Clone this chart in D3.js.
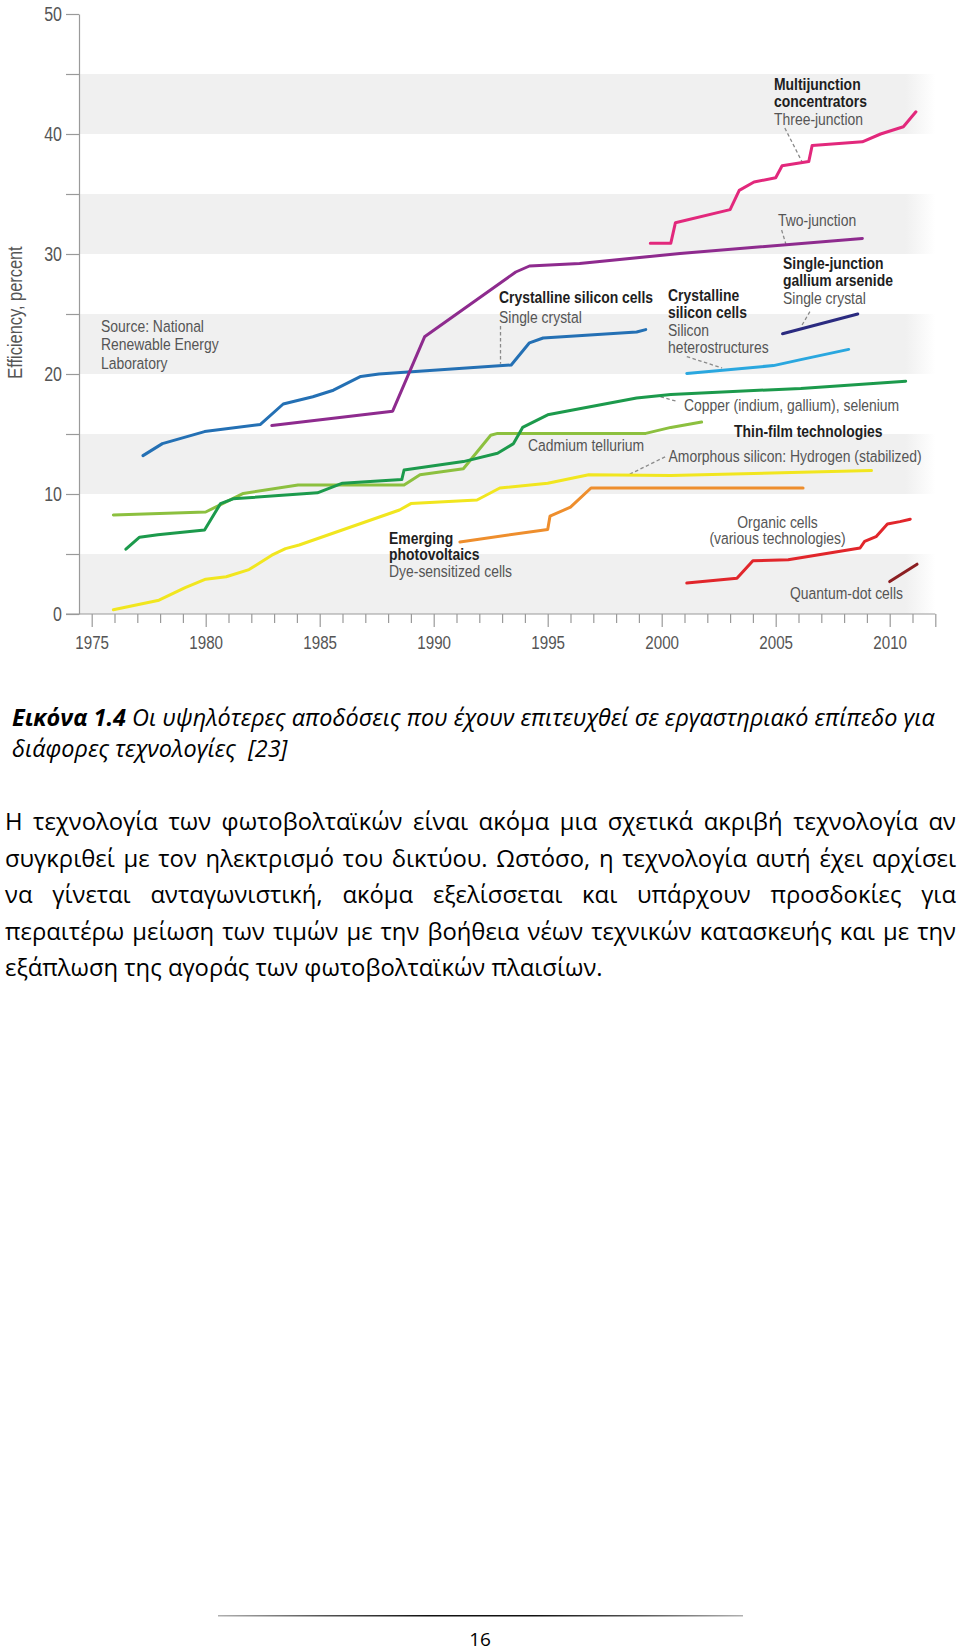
<!DOCTYPE html>
<html><head><meta charset="utf-8">
<script src="https://cdn.jsdelivr.net/npm/d3@7"></script>
<style>
html,body{margin:0;padding:0;background:#fff;}
svg{display:block;}
</style></head>
<body>
<svg id="page" width="960" height="1651"></svg>
<script>
// ---------------- DATA ----------------
const yearTicks = d3.range(1975, 2013);
const yearLabels = [1975, 1980, 1985, 1990, 1995, 2000, 2005, 2010];
const effTicks = [0, 5, 10, 15, 20, 25, 30, 35, 40, 45, 50];
const effLabels = [0, 10, 20, 30, 40, 50];
const bandRanges = [[0, 5], [10, 15], [20, 25], [30, 35], [40, 45]];

// [year, efficiency %]
const threeJunction = [[1999.5,30.9],[2000.4,30.9],[2000.6,32.6],[2003.0,33.7],[2003.4,35.3],[2004.05,36.0],[2005.0,36.35],[2005.28,37.35],[2006.45,37.7],[2006.6,39.05],[2008.8,39.35],[2009.6,40.0],[2010.6,40.6],[2011.15,41.85]];
const twoJunction = [[1982.9,15.7],[1988.2,16.9],[1989.6,23.1],[1993.6,28.5],[1994.2,29.0],[1996.4,29.2],[2000.8,30.05],[2008.8,31.3]];
const gaAsSingle = [[2005.3,23.35],[2008.6,25.0]];
const siSingleCrystal = [[1977.25,13.2],[1978.1,14.2],[1979.95,15.2],[1982.4,15.8],[1983.4,17.5],[1984.7,18.1],[1985.6,18.65],[1986.8,19.8],[1987.6,20.0],[1993.4,20.75],[1994.2,22.6],[1994.8,23.0],[1998.9,23.5],[1999.3,23.7]];
const siHetero = [[2001.1,20.05],[2004.9,20.7],[2006.1,21.2],[2008.2,22.05]];
const cigs = [[1976.5,5.4],[1977.1,6.4],[1977.9,6.6],[1979.95,7.0],[1980.65,9.2],[1981.2,9.6],[1984.9,10.1],[1986.0,10.9],[1988.6,11.2],[1988.7,12.0],[1991.3,12.7],[1992.8,13.4],[1993.5,14.2],[1993.9,15.55],[1995.0,16.6],[1996.1,17.0],[1998.9,18.0],[2000.4,18.3],[2006.1,18.8],[2010.7,19.4]];
const cdte = [[1975.95,8.25],[1980.0,8.5],[1981.65,10.05],[1984.05,10.75],[1988.7,10.75],[1989.4,11.6],[1991.3,12.1],[1992.5,14.9],[1992.8,15.05],[1999.3,15.05],[2000.4,15.55],[2001.75,16.0]];
const amorphousSi = [[1975.95,0.35],[1977.95,1.15],[1979.1,2.2],[1980.0,2.9],[1980.9,3.1],[1981.9,3.7],[1982.9,4.9],[1983.5,5.45],[1984.1,5.75],[1988.5,8.67],[1989.0,9.2],[1991.9,9.5],[1992.9,10.5],[1995.0,10.9],[1996.8,11.6],[2000.4,11.55],[2009.2,11.95]];
const dyeSensitized = [[1991.15,6.0],[1995.0,7.05],[1995.1,8.15],[1996.0,8.9],[1996.9,10.5],[2006.2,10.5]];
const organic = [[2001.1,2.58],[2003.3,2.97],[2004.0,4.44],[2005.55,4.52],[2008.7,5.5],[2008.9,6.05],[2009.4,6.44],[2009.9,7.5],[2010.45,7.7],[2010.9,7.9]];
const quantumDot = [[2010.0,2.7],[2011.2,4.15]];

// annotation leader lines [year, eff] -> [year, eff]
const leaders = [
  [[1992.93,24.0],[1992.93,20.85]],
  [[2001.1,21.45],[2002.65,20.5]],
  [[2005.26,32.0],[2005.45,30.8]],
  [[2005.4,40.5],[2006.15,37.7]],
  [[2006.5,25.2],[2006.1,23.9]],
  [[1999.95,18.1],[2000.7,17.7]],
  [[2000.15,13.1],[1998.6,11.65]]
];

const captionBold = "Εικόνα 1.4";
const captionLine1 = " Οι υψηλότερες αποδόσεις που έχουν επιτευχθεί σε εργαστηριακό επίπεδο για";
const captionLine2 = "διάφορες τεχνολογίες  [23]";
const paragraphLines = [
  "Η τεχνολογία των φωτοβολταϊκών είναι ακόμα μια σχετικά ακριβή τεχνολογία αν",
  "συγκριθεί με τον ηλεκτρισμό του δικτύου. Ωστόσο, η τεχνολογία αυτή έχει αρχίσει",
  "να γίνεται ανταγωνιστική, ακόμα εξελίσσεται και υπάρχουν προσδοκίες για",
  "περαιτέρω μείωση των τιμών με την βοήθεια νέων τεχνικών κατασκευής και με την",
  "εξάπλωση της αγοράς των φωτοβολταϊκών πλαισίων."
];
const pageNumber = "16";

// ---------------- FONTS ----------------
function fontAvailable(name){
  const c = document.createElement('canvas').getContext('2d');
  const s = 'Crystalline silicon cells 0123456789';
  c.font = '20px monospace'; const a = c.measureText(s).width;
  c.font = '20px "' + name + '", monospace'; const b = c.measureText(s).width;
  return Math.abs(a - b) > 0.5;
}
const narrowOK = fontAvailable('Liberation Sans Narrow');
const NF = narrowOK ? '"Liberation Sans Narrow", sans-serif' : '"Liberation Sans", Arial, sans-serif';
const SX = narrowOK ? 1 : 0.82;
const BODY = '"Open Sans", "Noto Sans", sans-serif';

// ---------------- CHART ----------------
const svg = d3.select('#page');
const x = d3.scaleLinear().domain([1975, 2012]).range([91.7, 935.3]);
const y = d3.scaleLinear().domain([0, 50]).range([614, 14]);

const defs = svg.append('defs');
const grad = defs.append('linearGradient').attr('id','bandFade').attr('x1','0').attr('x2','1').attr('y1','0').attr('y2','0');
grad.append('stop').attr('offset','0').attr('stop-color','#f0f0f0');
grad.append('stop').attr('offset','0.965').attr('stop-color','#f0f0f0');
grad.append('stop').attr('offset','1').attr('stop-color','#ffffff');

svg.append('g').selectAll('rect').data(bandRanges).join('rect')
  .attr('x', 80).attr('width', x(2012) - 80)
  .attr('y', d => y(d[1])).attr('height', d => y(d[0]) - y(d[1]))
  .attr('fill', 'url(#bandFade)');

// y axis
const yAxis = svg.append('g').attr('transform','translate(79,0)')
  .call(d3.axisLeft(y).tickValues(effTicks).tickSize(13).tickSizeOuter(0).tickPadding(4)
    .tickFormat(d => effLabels.includes(d) ? d : ''));
yAxis.select('.domain').attr('stroke','#9a9a9a').attr('stroke-width',1.2);
yAxis.selectAll('.tick line').attr('stroke','#9a9a9a').attr('stroke-width',1.2);
yAxis.selectAll('.tick text').attr('font-family', null).style('font-family', NF).attr('font-size', 19.5)
  .attr('fill','#555').attr('transform', 'scale(' + SX + ',1)')
  .attr('x', -17 / SX);

// x axis
svg.append('line').attr('x1', 66).attr('x2', x(2012)).attr('y1', 614).attr('y2', 614)
  .attr('stroke','#9a9a9a').attr('stroke-width',1.2);
const xAxis = svg.append('g').attr('transform','translate(0,614)')
  .call(d3.axisBottom(x).tickValues(yearTicks).tickSize(9).tickSizeOuter(0)
    .tickFormat(d => yearLabels.includes(d) ? d : ''));
xAxis.select('.domain').remove();
xAxis.selectAll('.tick line').attr('stroke','#9a9a9a').attr('stroke-width',1.2)
  .attr('y2', d => yearLabels.includes(d) || d === 2012 ? 13 : 9);
xAxis.selectAll('.tick text').style('font-family', NF).attr('font-size', 18.5)
  .attr('fill','#555').attr('y', 22).attr('transform', 'scale(' + SX + ',1)');

// y-axis title
svg.append('text').attr('transform','translate(22,312.5) rotate(-90) scale(' + SX + ',1)')
  .attr('text-anchor','middle').style('font-family', NF).attr('font-size', 20)
  .attr('fill','#555').text('Efficiency, percent');

// leaders
svg.append('g').selectAll('line').data(leaders).join('line')
  .attr('x1', d => x(d[0][0])).attr('y1', d => y(d[0][1]))
  .attr('x2', d => x(d[1][0])).attr('y2', d => y(d[1][1]))
  .attr('stroke','#8a8a8a').attr('stroke-width',1.3).attr('stroke-dasharray','3.5,2.5');

// series
const series = [
  {data: amorphousSi, color: '#f1e61f'},
  {data: dyeSensitized, color: '#ee8e2d'},
  {data: cdte, color: '#8cc03f'},
  {data: cigs, color: '#1c9a4c'},
  {data: siSingleCrystal, color: '#2470b4'},
  {data: twoJunction, color: '#8e2b8e'},
  {data: threeJunction, color: '#e2287c'},
  {data: gaAsSingle, color: '#2b2b80'},
  {data: siHetero, color: '#2aa7df'},
  {data: organic, color: '#e1262b'},
  {data: quantumDot, color: '#8c1f22'}
];
const line = d3.line().x(d => x(d[0])).y(d => y(d[1]));
svg.append('g').selectAll('path').data(series).join('path')
  .attr('d', d => line(d.data)).attr('fill','none')
  .attr('stroke', d => d.color).attr('stroke-width', 3)
  .attr('stroke-linejoin','round').attr('stroke-linecap','round');

// labels
function label(px, py, lines, lh, anchor){
  const t = svg.append('text')
    .attr('transform','translate(' + px + ',' + py + ') scale(' + SX + ',1)')
    .style('font-family', NF).attr('font-size', 17)
    .attr('text-anchor', anchor || 'start');
  lines.forEach((l, i) => {
    t.append('tspan').attr('x', 0).attr('y', i * lh)
      .attr('font-weight', l[1] ? 'bold' : 'normal')
      .attr('fill', l[1] ? '#1e1e1e' : '#555').text(l[0]);
  });
}
label(101, 332, [['Source: National'],['Renewable Energy'],['Laboratory']], 18.5);
label(499, 303, [['Crystalline silicon cells', 1]], 19);
label(499, 322.5, [['Single crystal']], 19);
label(668, 301, [['Crystalline', 1],['silicon cells', 1],['Silicon'],['heterostructures']], 17.5);
label(778, 226, [['Two-junction']], 17);
label(774, 90, [['Multijunction', 1],['concentrators', 1],['Three-junction']], 17.5);
label(783, 269, [['Single-junction', 1],['gallium arsenide', 1],['Single crystal']], 17.5);
label(684, 410.5, [['Copper (indium, gallium), selenium']], 17);
label(734, 436.5, [['Thin-film technologies', 1]], 17);
label(668.5, 462, [['Amorphous silicon: Hydrogen (stabilized)']], 17);
label(528, 451, [['Cadmium tellurium']], 17);
label(389, 544, [['Emerging', 1],['photovoltaics', 1],['Dye-sensitized cells']], 16.5);
label(777.5, 527.5, [['Organic cells'],['(various technologies)']], 16.5, 'middle');
label(790, 599, [['Quantum-dot cells']], 17);

// ---------------- TEXT BELOW ----------------
function measure(str, size, weight, italic){
  const t = svg.append('text').style('font-family', BODY).attr('font-size', size)
    .attr('font-weight', weight || 'normal').attr('font-style', italic ? 'italic' : 'normal')
    .style('white-space','pre').text(str);
  const w = t.node().getComputedTextLength(); t.remove(); return w;
}
// caption size fitted to reference line width
const capW20 = measure(captionBold, 20, 'bold', true) + measure(captionLine1, 20, 'normal', true);
const capSize = 20 * 923 / capW20;
const cap = svg.append('text').attr('x', 12).attr('y', 726).style('font-family', BODY)
  .attr('font-size', capSize).attr('font-style','italic').style('white-space','pre').attr('fill','#000');
cap.append('tspan').attr('font-weight','bold').text(captionBold);
cap.append('tspan').text(captionLine1);
svg.append('text').attr('x', 12).attr('y', 756.5).style('font-family', BODY)
  .attr('font-size', capSize).attr('font-style','italic').style('white-space','pre')
  .attr('fill','#000').text(captionLine2);

// paragraph: size fitted to last (unjustified) line
const lastW20 = measure(paragraphLines[4], 20);
const pSize = 20 * 598 / lastW20;
paragraphLines.forEach((str, i) => {
  const by = 830 + i * 36.5;
  const t = svg.append('text').attr('y', by).style('font-family', BODY)
    .attr('font-size', pSize).attr('fill','#000');
  if (i === paragraphLines.length - 1) { t.attr('x', 5).text(str); return; }
  const words = str.split(' ');
  const widths = words.map(w => measure(w, pSize));
  const gap = (951 - d3.sum(widths)) / (words.length - 1);
  let cx = 5;
  words.forEach((w, k) => { t.append('tspan').attr('x', cx).attr('y', by).text(w); cx += widths[k] + gap; });
});

// footer
const fg = defs.append('linearGradient').attr('id','footFade').attr('x1','0').attr('x2','1');
[['0','#b0b0b0'],['0.2','#555'],['0.4','#111'],['0.6','#111'],['0.8','#555'],['1','#b0b0b0']]
  .forEach(s => fg.append('stop').attr('offset', s[0]).attr('stop-color', s[1]));
svg.append('rect').attr('x', 218).attr('y', 1615).attr('width', 525).attr('height', 1.5).attr('fill','url(#footFade)');
svg.append('text').attr('x', 480).attr('y', 1646).attr('text-anchor','middle')
  .style('font-family', BODY).attr('font-size', 19).attr('fill','#000').text(pageNumber);
</script>
</body></html>
